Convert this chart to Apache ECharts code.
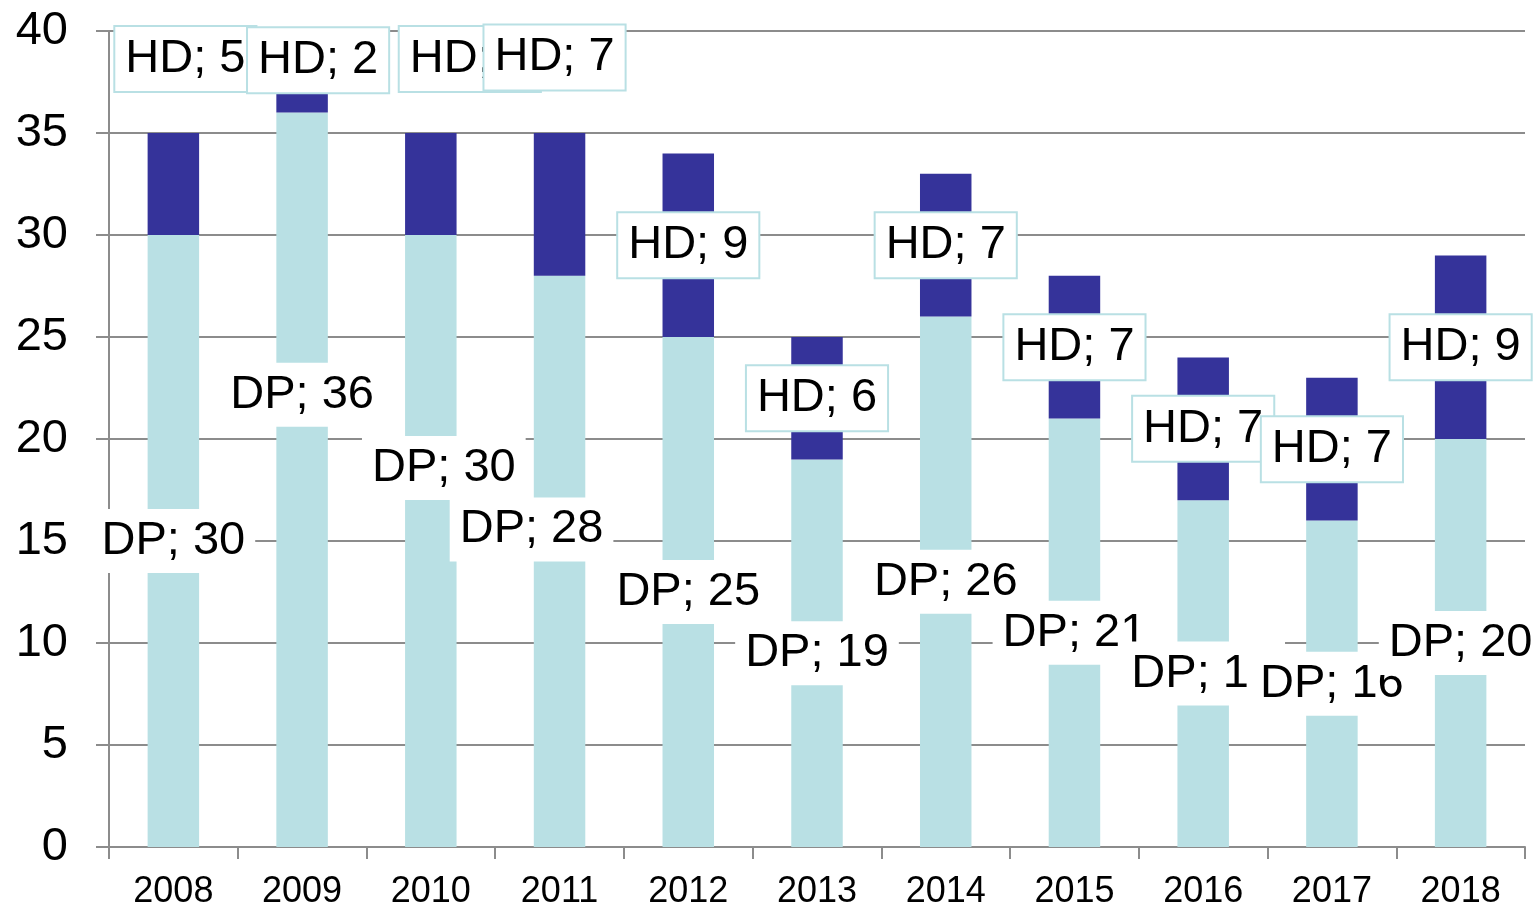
<!DOCTYPE html>
<html>
<head>
<meta charset="utf-8">
<script src="https://cdn.jsdelivr.net/npm/echarts@6/dist/echarts.min.js"></script>
<style>
html,body{margin:0;padding:0;background:#fff;}
#chart{width:1536px;height:906px;}
</style>
</head>
<body>
<div id="chart"></div>
<script>
// ---- data ----
const years = ['2008','2009','2010','2011','2012','2013','2014','2015','2016','2017','2018'];
const dpValues = [30, 36, 30, 28, 25, 19, 26, 21, 17, 16, 20];
const hdValues = [5, 2, 5, 7, 9, 6, 7, 7, 7, 7, 9];
const yTicks = { min: 0, max: 40, interval: 5 };

// ---- label placement tweaks (pixel offsets, styling only) ----
const dpLabelShift = [[0,0],[0,-85],[13,-73],[-28,-32],[0,0],[0,0],[0,0],[0,0],[0,0],[0,0],[0,0]];
const hdLabelShift = [[12,-125],[16,-32],[39,-125],[-5,-147],[0,0],[0,0],[0,0],[0,0],[0,0],[0,0],[0,0]];

const FONT = '"Liberation Sans", Arial, sans-serif';
const DP_COLOR = '#b9e0e4';
const HD_COLOR = '#35339a';
const GRID_COLOR = '#8c8c8c';

function mkData(values, shifts, name) {
  return values.map((v, i) => ({
    value: v,
    label: {
      offset: shifts[i],
      formatter: name + '; ' + v
    }
  }));
}

const baseLabel = {
  show: true,
  position: 'inside',
  fontFamily: FONT,
  fontSize: 47,
  lineHeight: 50,
  color: '#000',
  backgroundColor: '#fff',
  padding: [7, 10]
};

const chart = echarts.init(document.getElementById('chart'), null, {renderer: 'canvas'});
chart.setOption({
  animation: false,
  grid: { left: 109, right: 11, top: 31, bottom: 59, containLabel: false, outerBoundsMode: 'none' },
  xAxis: {
    type: 'category',
    data: years,
    boundaryGap: true,
    axisLine: { show: true, lineStyle: { color: GRID_COLOR, width: 2 } },
    axisTick: { show: true, length: 12, lineStyle: { color: GRID_COLOR, width: 2 } },
    axisLabel: { fontFamily: FONT, fontSize: 36, color: '#000', margin: 27 },
    splitLine: { show: false }
  },
  yAxis: {
    type: 'value',
    min: yTicks.min, max: yTicks.max, interval: yTicks.interval,
    axisLine: { show: true, lineStyle: { color: GRID_COLOR, width: 2 } },
    axisTick: { show: true, length: 13, lineStyle: { color: GRID_COLOR, width: 2 } },
    axisLabel: { fontFamily: FONT, fontSize: 47, color: '#000', margin: 41 },
    splitLine: { show: true, lineStyle: { color: GRID_COLOR, width: 2 } }
  },
  series: [
    {
      name: 'DP', type: 'bar', stack: 'total', barWidth: '40%',
      itemStyle: { color: DP_COLOR },
      label: Object.assign({}, baseLabel),
      data: mkData(dpValues, dpLabelShift, 'DP')
    },
    {
      name: 'HD', type: 'bar', stack: 'total', barWidth: '40%',
      itemStyle: { color: HD_COLOR },
      label: Object.assign({}, baseLabel, { borderColor: DP_COLOR, borderWidth: 2 }),
      data: mkData(hdValues, hdLabelShift, 'HD')
    }
  ]
});
</script>
</body>
</html>
